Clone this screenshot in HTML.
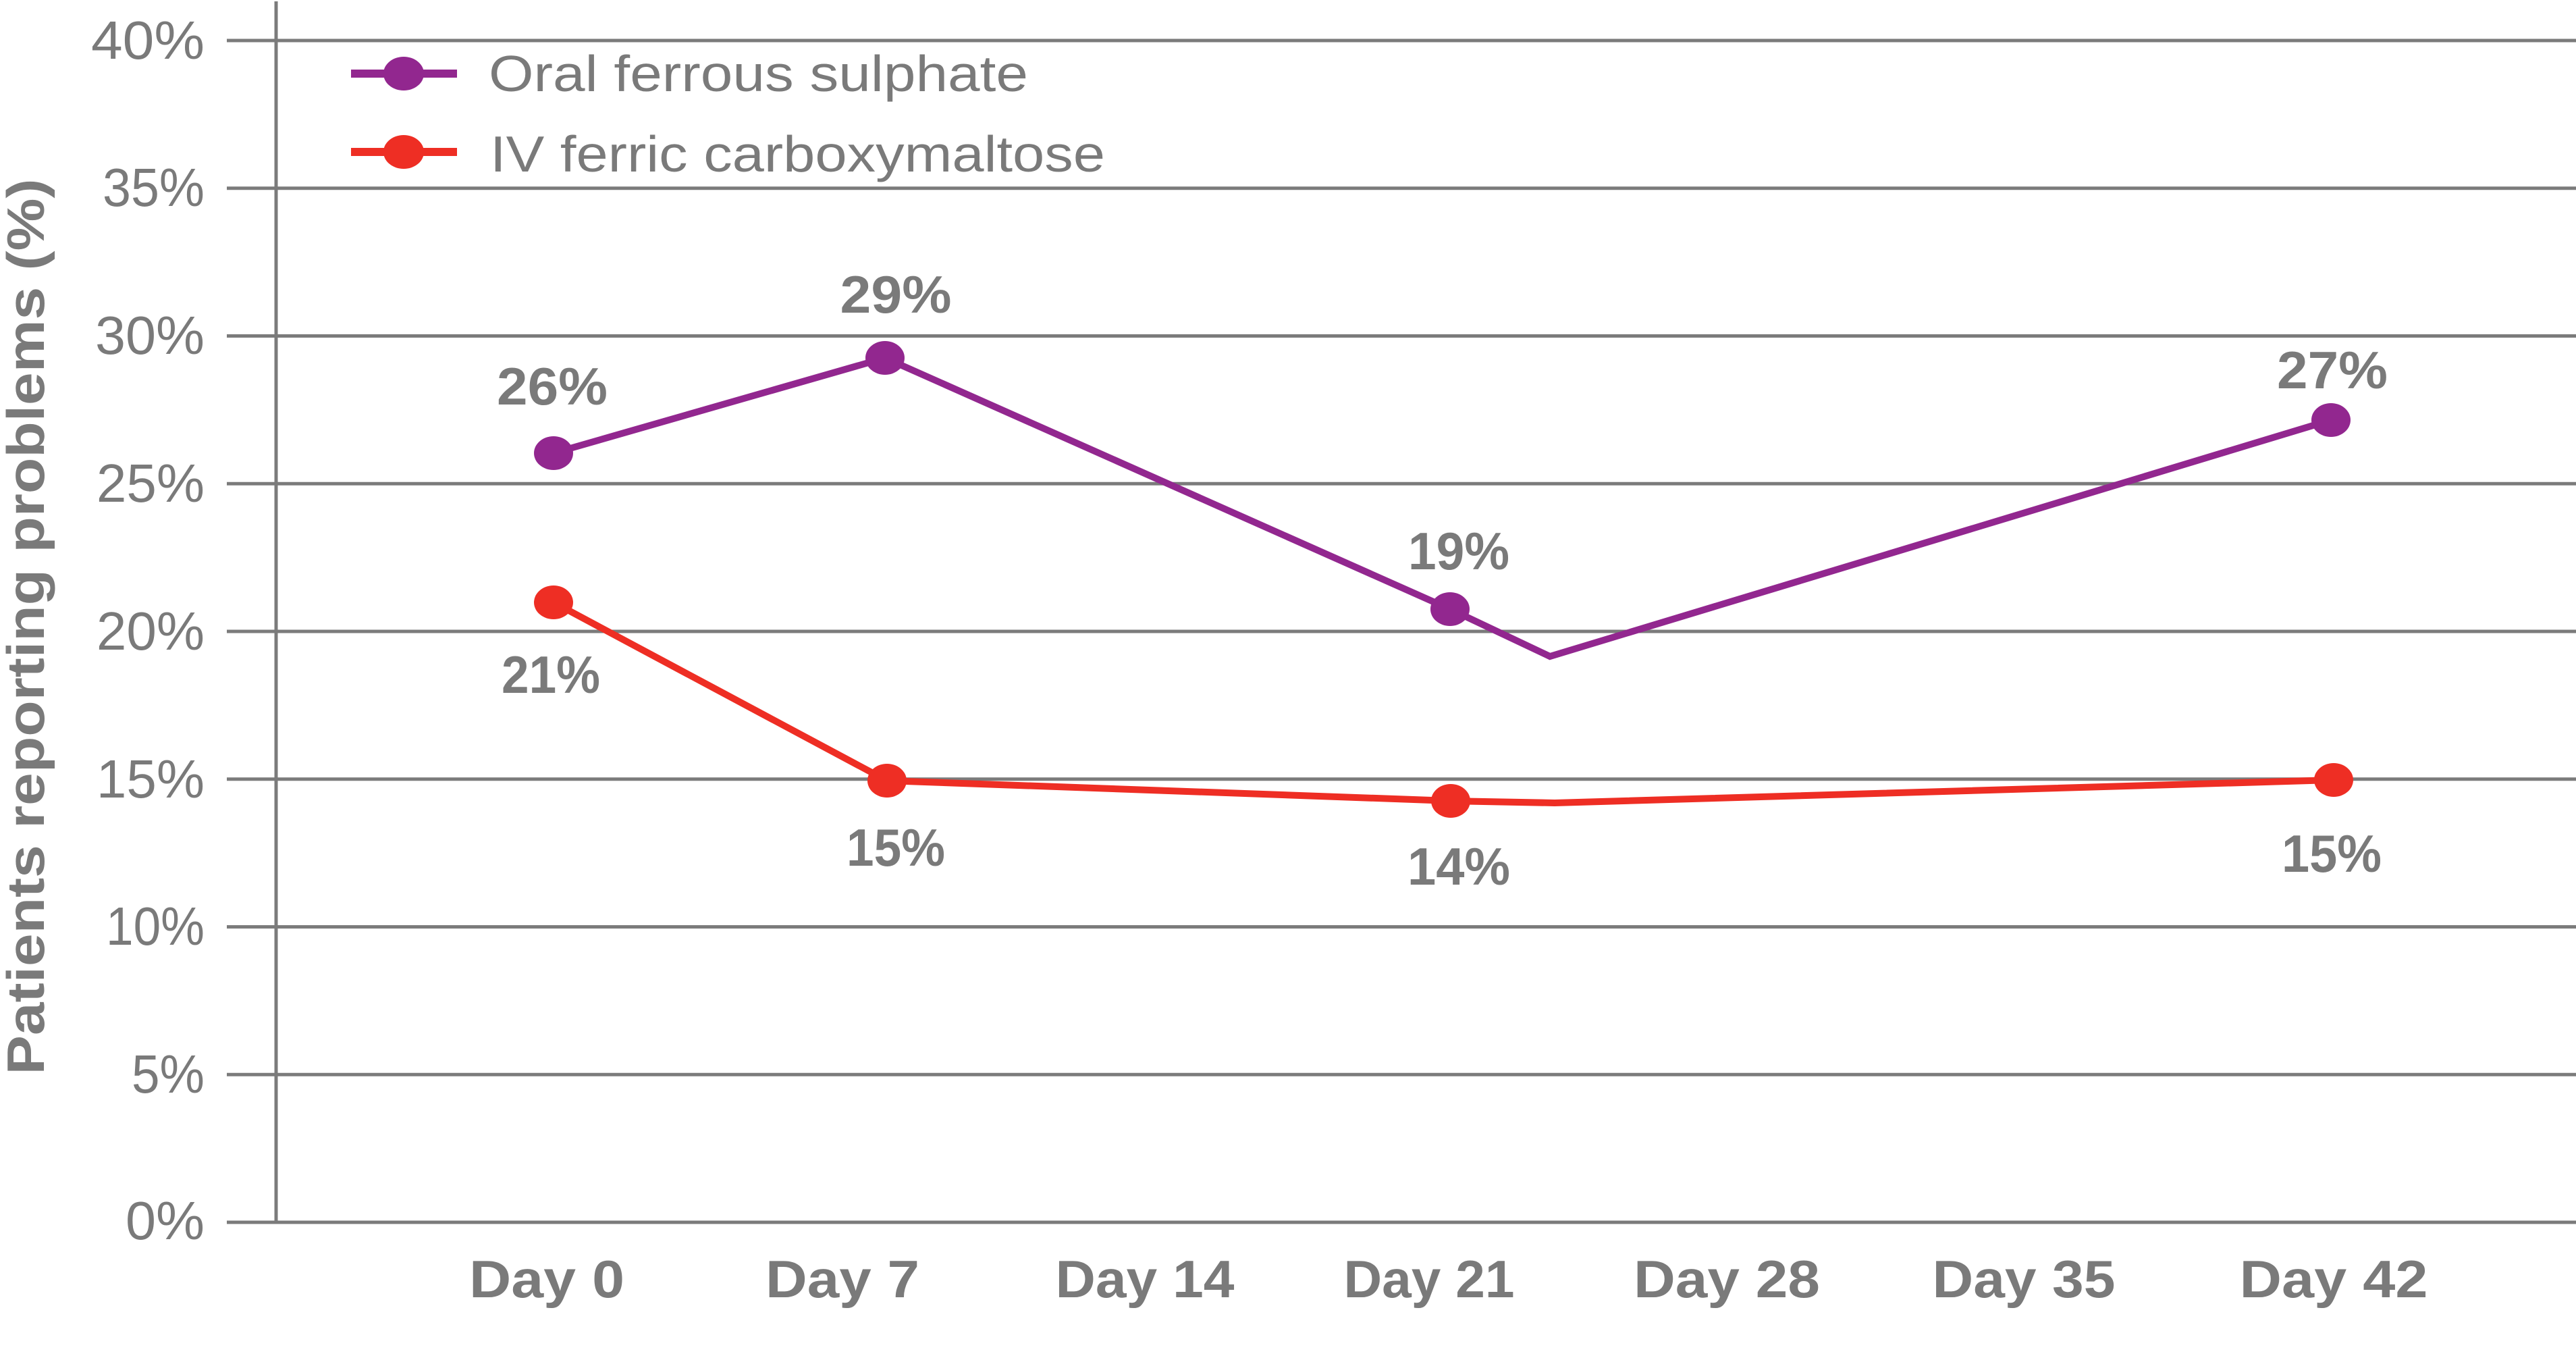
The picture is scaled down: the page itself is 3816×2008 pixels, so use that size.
<!DOCTYPE html>
<html>
<head>
<meta charset="utf-8">
<style>
  html, body { margin: 0; padding: 0; background: #ffffff; }
  svg { display: block; }
  text { font-family: "Liberation Sans", "DejaVu Sans", sans-serif; fill: #7a7a7a; }
  .tick { font-size: 80px; font-weight: 400; }
  .leg { font-size: 75px; font-weight: 400; }
  .lab { font-size: 78px; font-weight: 700; }
  .xl { font-size: 78px; font-weight: 700; }
  .title { font-size: 78px; font-weight: 700; }
</style>
</head>
<body>
<svg width="3816" height="2008" viewBox="0 0 3816 2008" xmlns="http://www.w3.org/2000/svg">
  <rect x="0" y="0" width="3816" height="2008" fill="#ffffff"/>

  <!-- gridlines -->
  <g stroke="#7b7b7b" stroke-width="5">
    <line x1="336" y1="60" x2="3816" y2="60"/>
    <line x1="336" y1="278.75" x2="3816" y2="278.75"/>
    <line x1="336" y1="497.5" x2="3816" y2="497.5"/>
    <line x1="336" y1="716.25" x2="3816" y2="716.25"/>
    <line x1="336" y1="935" x2="3816" y2="935"/>
    <line x1="336" y1="1153.75" x2="3816" y2="1153.75"/>
    <line x1="336" y1="1372.5" x2="3816" y2="1372.5"/>
    <line x1="336" y1="1591.25" x2="3816" y2="1591.25"/>
    <line x1="336" y1="1810" x2="3816" y2="1810"/>
  </g>
  <!-- y axis -->
  <line x1="409" y1="2" x2="409" y2="1812" stroke="#7b7b7b" stroke-width="5"/>

  <!-- y tick labels -->
  <g text-anchor="end" class="tick">
    <text class="tick" x="303" y="87" textLength="168" lengthAdjust="spacingAndGlyphs">40%</text>
    <text class="tick" x="303" y="305" textLength="151" lengthAdjust="spacingAndGlyphs">35%</text>
    <text class="tick" x="303" y="524" textLength="162" lengthAdjust="spacingAndGlyphs">30%</text>
    <text class="tick" x="303" y="743">25%</text>
    <text class="tick" x="303" y="962">20%</text>
    <text class="tick" x="303" y="1181">15%</text>
    <text class="tick" x="303" y="1399" textLength="146" lengthAdjust="spacingAndGlyphs">10%</text>
    <text class="tick" x="303" y="1618" textLength="108" lengthAdjust="spacingAndGlyphs">5%</text>
    <text class="tick" x="303" y="1835" textLength="117" lengthAdjust="spacingAndGlyphs">0%</text>
  </g>

  <!-- y axis title -->
  <text class="title" transform="translate(65,928) rotate(-90)" text-anchor="middle" textLength="1327" lengthAdjust="spacingAndGlyphs">Patients reporting problems (%)</text>

  <!-- legend -->
  <line x1="520" y1="109" x2="677" y2="109" stroke="#92278f" stroke-width="12"/>
  <ellipse cx="598" cy="109" rx="30" ry="25" fill="#92278f"/>
  <text class="leg" x="724" y="135" textLength="799" lengthAdjust="spacingAndGlyphs">Oral ferrous sulphate</text>

  <line x1="520" y1="225" x2="677" y2="225" stroke="#ee2e24" stroke-width="12"/>
  <ellipse cx="598" cy="225" rx="30" ry="25" fill="#ee2e24"/>
  <text class="leg" x="726" y="254" textLength="911" lengthAdjust="spacingAndGlyphs">IV ferric carboxymaltose</text>

  <!-- purple series -->
  <polyline points="820,671 1311,530 2148,902 2296,972 3453,622" fill="none" stroke="#92278f" stroke-width="10" stroke-linejoin="miter"/>
  <g fill="#92278f">
    <ellipse cx="820" cy="671" rx="29" ry="25"/>
    <ellipse cx="1311" cy="530" rx="29" ry="25"/>
    <ellipse cx="2148" cy="902" rx="29" ry="25"/>
    <ellipse cx="3453" cy="622" rx="29" ry="25"/>
  </g>

  <!-- red series -->
  <polyline points="820,892 1314,1156 2149,1186 2303,1189 3457,1155" fill="none" stroke="#ee2e24" stroke-width="10" stroke-linejoin="miter"/>
  <g fill="#ee2e24">
    <ellipse cx="820" cy="892" rx="29" ry="25"/>
    <ellipse cx="1314" cy="1156" rx="29" ry="25"/>
    <ellipse cx="2149" cy="1186" rx="29" ry="25"/>
    <ellipse cx="3457" cy="1155" rx="29" ry="25"/>
  </g>

  <!-- data labels -->
  <g text-anchor="middle">
    <text class="lab" x="818" y="599" textLength="164" lengthAdjust="spacingAndGlyphs">26%</text>
    <text class="lab" x="1327" y="463" textLength="165" lengthAdjust="spacingAndGlyphs">29%</text>
    <text class="lab" x="2161" y="843" textLength="150" lengthAdjust="spacingAndGlyphs">19%</text>
    <text class="lab" x="3455" y="575" textLength="164" lengthAdjust="spacingAndGlyphs">27%</text>
    <text class="lab" x="816" y="1026" textLength="146" lengthAdjust="spacingAndGlyphs">21%</text>
    <text class="lab" x="1327" y="1282" textLength="146" lengthAdjust="spacingAndGlyphs">15%</text>
    <text class="lab" x="2161" y="1310" textLength="152" lengthAdjust="spacingAndGlyphs">14%</text>
    <text class="lab" x="3454" y="1291" textLength="148" lengthAdjust="spacingAndGlyphs">15%</text>
  </g>

  <!-- x labels -->
  <g text-anchor="middle">
    <text class="xl" x="810" y="1921" textLength="230" lengthAdjust="spacingAndGlyphs">Day 0</text>
    <text class="xl" x="1248" y="1921" textLength="228" lengthAdjust="spacingAndGlyphs">Day 7</text>
    <text class="xl" x="1696" y="1921" textLength="265" lengthAdjust="spacingAndGlyphs">Day 14</text>
    <text class="xl" x="2117" y="1921" textLength="253" lengthAdjust="spacingAndGlyphs">Day 21</text>
    <text class="xl" x="2558" y="1921" textLength="276" lengthAdjust="spacingAndGlyphs">Day 28</text>
    <text class="xl" x="2998" y="1921" textLength="271" lengthAdjust="spacingAndGlyphs">Day 35</text>
    <text class="xl" x="3457" y="1921" textLength="279" lengthAdjust="spacingAndGlyphs">Day 42</text>
  </g>
</svg>
</body>
</html>
